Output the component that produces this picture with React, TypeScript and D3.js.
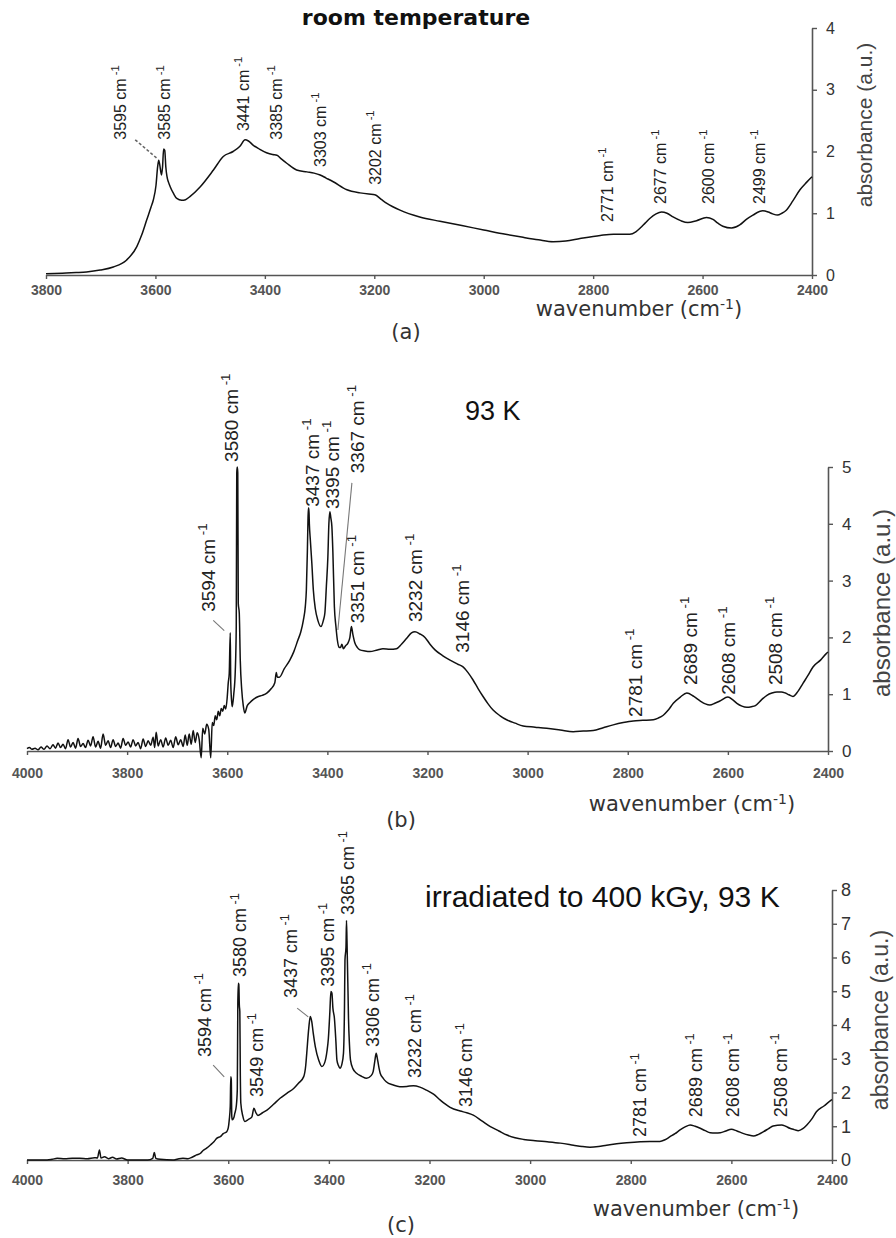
import React, { useEffect, useRef } from 'react';
import * as d3 from 'd3';

type Pt = [number, number];
type Peak = { label: string; lx: number; ly: number };
type Leader = { x1: number; y1: number; x2: number; y2: number; dashed?: boolean };

// ---------- (a) room temperature ----------
const roomTempSpectrum: Pt[] = [
  [3800, 0.02], [3770, 0.03], [3745, 0.04], [3726, 0.05], [3701, 0.08], [3677, 0.13], [3653, 0.24],
  [3634, 0.46], [3625, 0.65], [3616, 0.89], [3608, 1.1], [3604, 1.21], [3599, 1.45], [3596, 1.75],
  [3594, 1.86], [3592, 1.78], [3589, 1.62], [3587, 1.75], [3585, 2.04], [3583, 2.02], [3581, 1.75],
  [3579, 1.6], [3576, 1.5], [3573, 1.43], [3567, 1.32], [3561, 1.24], [3552, 1.21], [3545, 1.22],
  [3537, 1.27], [3518, 1.43], [3494, 1.7], [3476, 1.92], [3458, 2.0], [3446, 2.08], [3436, 2.19],
  [3430, 2.17], [3421, 2.1], [3410, 2.04], [3397, 1.98], [3386, 1.95], [3378, 1.94], [3370, 1.88],
  [3360, 1.81], [3342, 1.7], [3323, 1.67], [3310, 1.65], [3299, 1.62], [3288, 1.57], [3275, 1.51],
  [3250, 1.38], [3226, 1.33], [3210, 1.31], [3199, 1.3], [3188, 1.23], [3177, 1.16], [3153, 1.05],
  [3117, 0.94], [3080, 0.87], [3040, 0.8], [3000, 0.73], [2960, 0.66], [2928, 0.61], [2900, 0.57],
  [2873, 0.54], [2850, 0.55], [2824, 0.59], [2787, 0.64], [2763, 0.66], [2733, 0.66], [2722, 0.7],
  [2714, 0.76], [2705, 0.84], [2696, 0.92], [2685, 0.99], [2675, 1.02], [2665, 1.0], [2654, 0.94],
  [2640, 0.88], [2627, 0.85], [2611, 0.88], [2593, 0.93], [2581, 0.9], [2572, 0.84], [2563, 0.79],
  [2547, 0.76], [2532, 0.81], [2520, 0.9], [2508, 0.97], [2490, 1.04], [2480, 1.02], [2472, 0.99],
  [2463, 0.97], [2455, 1.0], [2447, 1.05], [2435, 1.2], [2422, 1.38], [2410, 1.5], [2400, 1.59],
];
const roomTempPeaks: Peak[] = [
  { label: '3595', lx: 3665, ly: 2.19 }, { label: '3585', lx: 3583, ly: 2.19 },
  { label: '3441', lx: 3440, ly: 2.33 }, { label: '3385', lx: 3380, ly: 2.19 },
  { label: '3303', lx: 3299, ly: 1.75 }, { label: '3202', lx: 3199, ly: 1.46 },
  { label: '2771', lx: 2775, ly: 0.86 }, { label: '2677', lx: 2678, ly: 1.15 },
  { label: '2600', lx: 2590, ly: 1.15 }, { label: '2499', lx: 2497, ly: 1.15 },
];
const roomTempLeaders: Leader[] = [{ x1: 3637, y1: 2.19, x2: 3596, y2: 1.88, dashed: true }];

// ---------- (b) 93 K ----------
const spectrum93K: Pt[] = [
  [4000, 0.04], [3995, 0.06], [3990, 0.03], [3984, 0.05], [3978, 0.02], [3972, 0.07], [3966, 0.03],
  [3960, 0.09], [3954, 0.04], [3948, 0.11], [3943, 0.05], [3938, 0.14], [3933, 0.06], [3928, 0.12],
  [3923, 0.04], [3918, 0.2], [3913, 0.07], [3908, 0.15], [3903, 0.05], [3898, 0.22], [3893, 0.08],
  [3888, 0.13], [3883, 0.06], [3878, 0.19], [3873, 0.09], [3868, 0.25], [3863, 0.07], [3858, 0.17],
  [3853, 0.05], [3848, 0.3], [3843, 0.1], [3838, 0.18], [3833, 0.06], [3828, 0.2], [3823, 0.08],
  [3818, 0.14], [3813, 0.05], [3808, 0.22], [3803, 0.1], [3798, 0.16], [3793, 0.07], [3788, 0.2],
  [3783, 0.09], [3778, 0.15], [3773, 0.04], [3768, 0.21], [3763, 0.08], [3758, 0.18], [3753, 0.1],
  [3748, 0.24], [3745, 0.06], [3742, 0.33], [3738, 0.09], [3733, 0.2], [3728, 0.07], [3723, 0.23],
  [3718, 0.1], [3713, 0.19], [3708, 0.06], [3703, 0.25], [3698, 0.11], [3693, 0.2], [3688, 0.08],
  [3684, 0.28], [3680, 0.1], [3676, 0.3], [3672, 0.12], [3668, 0.36], [3664, 0.15], [3660, 0.32],
  [3656, 0.2], [3652, -0.12], [3649, 0.4], [3645, 0.3], [3641, 0.47], [3637, 0.38], [3633, -0.12],
  [3630, 0.5], [3627, 0.45], [3624, 0.62], [3621, 0.55], [3618, 0.7], [3615, 0.62], [3612, 0.75],
  [3609, 0.7], [3606, 0.8], [3603, 0.74], [3600, 0.95], [3598, 1.2], [3596, 1.37], [3594, 2.08],
  [3593, 1.2], [3591, 0.85], [3590, 0.78], [3587, 1.0], [3584, 1.4], [3582, 2.2], [3581, 4.9],
  [3580, 5.0], [3579, 4.9], [3578, 2.6], [3576, 2.43], [3574, 1.6], [3571, 1.07], [3568, 0.8],
  [3565, 0.67], [3560, 0.8], [3555, 0.85], [3549, 0.9], [3540, 0.95], [3530, 0.98], [3521, 1.02],
  [3512, 1.1], [3505, 1.2], [3502, 1.38], [3500, 1.3], [3496, 1.3], [3486, 1.45], [3475, 1.6],
  [3467, 1.75], [3459, 1.95], [3453, 2.1], [3448, 2.3], [3444, 2.55], [3442, 2.83], [3440, 3.5],
  [3439, 3.95], [3438, 4.28], [3437, 4.28], [3436, 4.0], [3434, 3.71], [3431, 3.3], [3428, 2.83],
  [3424, 2.5], [3419, 2.3], [3413, 2.19], [3408, 2.3], [3405, 2.43], [3402, 2.9], [3399, 3.42],
  [3397, 4.0], [3395, 4.21], [3393, 4.1], [3391, 3.95], [3389, 3.5], [3386, 2.54], [3383, 2.2],
  [3380, 1.95], [3377, 1.83], [3374, 1.82], [3371, 1.88], [3368, 1.8], [3364, 1.85], [3359, 1.9],
  [3355, 2.0], [3352, 2.19], [3349, 2.05], [3345, 1.9], [3340, 1.82], [3335, 1.78], [3325, 1.76],
  [3315, 1.75], [3300, 1.78], [3289, 1.8], [3275, 1.79], [3262, 1.8], [3252, 1.88], [3242, 1.98],
  [3232, 2.08], [3225, 2.1], [3215, 2.06], [3205, 2.0], [3195, 1.88], [3185, 1.78], [3170, 1.68],
  [3155, 1.6], [3140, 1.53], [3129, 1.48], [3119, 1.38], [3109, 1.25], [3099, 1.1], [3089, 0.96],
  [3079, 0.83], [3069, 0.72], [3055, 0.62], [3042, 0.55], [3025, 0.49], [3009, 0.44], [2985, 0.42],
  [2962, 0.4], [2935, 0.37], [2909, 0.34], [2889, 0.35], [2869, 0.36], [2849, 0.41], [2829, 0.46],
  [2809, 0.5], [2789, 0.53], [2770, 0.54], [2749, 0.55], [2739, 0.58], [2729, 0.63], [2719, 0.72],
  [2709, 0.84], [2695, 0.95], [2682, 1.02], [2668, 0.96], [2655, 0.88], [2645, 0.83], [2636, 0.81],
  [2626, 0.84], [2616, 0.88], [2600, 0.95], [2590, 0.9], [2582, 0.84], [2572, 0.79], [2562, 0.77],
  [2553, 0.78], [2545, 0.8], [2533, 0.9], [2522, 0.98], [2512, 1.02], [2502, 1.04], [2493, 1.04],
  [2485, 1.02], [2478, 0.99], [2470, 0.96], [2460, 1.05], [2450, 1.19], [2440, 1.33], [2430, 1.48],
  [2415, 1.6], [2403, 1.72], [2400, 1.74],
];
const peaks93K: Peak[] = [
  { label: '3594', lx: 3638, ly: 2.45 }, { label: '3580', lx: 3592, ly: 5.09 },
  { label: '3437', lx: 3431, ly: 4.3 }, { label: '3395', lx: 3391, ly: 4.26 },
  { label: '3367', lx: 3340, ly: 4.89 }, { label: '3351', lx: 3341, ly: 2.25 },
  { label: '3232', lx: 3225, ly: 2.27 }, { label: '3146', lx: 3131, ly: 1.73 },
  { label: '2781', lx: 2786, ly: 0.6 }, { label: '2689', lx: 2676, ly: 1.16 },
  { label: '2608', lx: 2600, ly: 0.99 }, { label: '2508', lx: 2506, ly: 1.16 },
];
const leaders93K: Leader[] = [
  { x1: 3628, y1: 2.3, x2: 3606, y2: 2.12 },
  { x1: 3351, y1: 4.72, x2: 3379, y2: 2.13 },
];

// ---------- (c) irradiated to 400 kGy, 93 K ----------
const spectrumIrradiated: Pt[] = [
  [4000, 0], [3960, 0], [3950, 0.02], [3940, 0.05], [3925, 0.04], [3910, 0.05], [3895, 0.05],
  [3880, 0.04], [3866, 0.07], [3860, 0.06], [3856, 0.3], [3853, 0.06], [3846, 0.1], [3838, 0.04],
  [3830, 0.08], [3822, 0.03], [3812, 0.06], [3800, 0], [3760, 0], [3750, 0.05], [3747, 0.22],
  [3744, 0.05], [3735, 0.02], [3710, 0], [3700, 0.03], [3690, 0.05], [3680, 0.04], [3672, 0.08],
  [3663, 0.15], [3655, 0.2], [3650, 0.28], [3643, 0.35], [3635, 0.45], [3628, 0.55], [3623, 0.64],
  [3615, 0.7], [3610, 0.78], [3603, 0.84], [3600, 0.95], [3598, 1.19], [3596, 1.6], [3595, 2.47],
  [3594, 2.4], [3593, 1.3], [3592, 1.19], [3589, 1.25], [3587, 1.38], [3584, 1.6], [3582, 2.1],
  [3581, 4.6], [3580, 5.24], [3579, 5.2], [3578, 4.6], [3577, 4.4], [3576, 2.5], [3575, 1.68],
  [3571, 1.3], [3567, 1.14], [3560, 1.2], [3553, 1.28], [3549, 1.53], [3545, 1.4], [3541, 1.32],
  [3532, 1.4], [3523, 1.48], [3510, 1.65], [3497, 1.83], [3483, 1.98], [3470, 2.12], [3460, 2.28],
  [3450, 2.47], [3446, 2.8], [3444, 3.16], [3440, 3.9], [3437, 4.25], [3434, 4.1], [3431, 3.75],
  [3427, 3.36], [3420, 2.95], [3414, 2.77], [3408, 2.9], [3404, 3.2], [3401, 3.6], [3398, 4.4],
  [3396, 4.99], [3394, 4.95], [3392, 4.5], [3389, 4.2], [3386, 3.5], [3384, 2.96], [3381, 2.8],
  [3378, 2.72], [3374, 2.85], [3371, 3.16], [3369, 4.5], [3368, 5.93], [3366, 6.3], [3365, 7.1],
  [3364, 6.5], [3362, 5.0], [3361, 4.2], [3359, 3.4], [3357, 2.96], [3352, 2.7], [3345, 2.57],
  [3335, 2.48], [3325, 2.42], [3316, 2.5], [3312, 2.62], [3309, 2.9], [3306, 3.16], [3303, 2.95],
  [3300, 2.7], [3298, 2.57], [3292, 2.42], [3286, 2.32], [3272, 2.22], [3259, 2.17], [3245, 2.18],
  [3232, 2.2], [3219, 2.16], [3206, 2.07], [3192, 1.95], [3179, 1.78], [3169, 1.66], [3159, 1.56],
  [3139, 1.45], [3126, 1.4], [3113, 1.33], [3096, 1.16], [3079, 0.99], [3062, 0.86], [3046, 0.74],
  [3030, 0.66], [3013, 0.61], [2990, 0.57], [2966, 0.54], [2940, 0.5], [2914, 0.44], [2897, 0.4],
  [2881, 0.38], [2864, 0.4], [2848, 0.44], [2828, 0.48], [2808, 0.51], [2781, 0.54], [2762, 0.55],
  [2742, 0.55], [2732, 0.6], [2722, 0.69], [2712, 0.78], [2702, 0.89], [2692, 0.98], [2682, 1.04],
  [2672, 1.0], [2662, 0.94], [2652, 0.87], [2642, 0.81], [2632, 0.8], [2622, 0.81], [2611, 0.86],
  [2600, 0.91], [2589, 0.86], [2577, 0.79], [2566, 0.74], [2556, 0.71], [2546, 0.76], [2536, 0.84],
  [2526, 0.93], [2517, 1.01], [2500, 1.04], [2492, 1.0], [2484, 0.94], [2475, 0.9], [2467, 0.87],
  [2458, 0.93], [2450, 1.04], [2440, 1.22], [2431, 1.43], [2416, 1.6], [2401, 1.78], [2400, 1.79],
];
const peaksIrradiated: Peak[] = [
  { label: '3594', lx: 3648, ly: 3.05 }, { label: '3580', lx: 3577, ly: 5.42 },
  { label: '3549', lx: 3543, ly: 1.87 }, { label: '3437', lx: 3477, ly: 4.8 },
  { label: '3395', lx: 3402, ly: 5.13 }, { label: '3365', lx: 3362, ly: 7.26 },
  { label: '3306', lx: 3314, ly: 3.35 }, { label: '3232', lx: 3229, ly: 2.43 },
  { label: '3146', lx: 3129, ly: 1.57 }, { label: '2781', lx: 2782, ly: 0.68 },
  { label: '2689', lx: 2672, ly: 1.27 }, { label: '2608', lx: 2597, ly: 1.27 },
  { label: '2508', lx: 2503, ly: 1.27 },
];
const leadersIrradiated: Leader[] = [
  { x1: 3630, y1: 2.81, x2: 3608, y2: 2.46 },
  { x1: 3463, y1: 4.5, x2: 3441, y2: 4.24 },
];

// ---------- ticks ----------
const xTicksRoomTemp = [3800, 3600, 3400, 3200, 3000, 2800, 2600, 2400];
const xTicks93K = [4000, 3800, 3600, 3400, 3200, 3000, 2800, 2600, 2400];
const yTicksRoomTemp = [0, 1, 2, 3, 4];
const yTicks93K = [0, 1, 2, 3, 4, 5];
const yTicksIrradiated = [0, 1, 2, 3, 4, 5, 6, 7, 8];

const SANS = '"Liberation Sans", Arial, sans-serif';
const WIDE = '"DejaVu Sans", Verdana, sans-serif';

interface PanelProps {
  data: Pt[];
  peaks: Peak[];
  leaders: Leader[];
  xDomain: [number, number];
  xRange: [number, number];
  yDomain: [number, number];
  yRange: [number, number];
  xTicks: number[];
  yTicks: number[];
  xTickPad: number;
  yTickPad: number;
  yTickFs: number;
  peakFs: number;
}

function Panel(p: PanelProps) {
  const x = d3.scaleLinear().domain(p.xDomain).range(p.xRange);
  const y = d3.scaleLinear().domain(p.yDomain).range(p.yRange);
  const line = d3.line<Pt>().x((d) => x(d[0])).y((d) => y(d[1])).curve(d3.curveMonotoneX);
  const xRef = useRef<SVGGElement>(null);
  const yRef = useRef<SVGGElement>(null);

  useEffect(() => {
    const gx = d3.select(xRef.current as SVGGElement);
    gx.selectAll('*').remove();
    gx.call(
      d3.axisBottom(x).tickValues(p.xTicks).tickSize(4).tickSizeOuter(0).tickPadding(p.xTickPad).tickFormat(d3.format('d')) as any
    );
    gx.select('.domain').attr('stroke', '#555').attr('stroke-width', 1.6);
    gx.selectAll('.tick line').attr('stroke', '#555').attr('stroke-width', 1.4);
    gx.selectAll('.tick text')
      .attr('font-family', SANS).attr('font-size', 14).attr('font-weight', 'bold').attr('fill', '#555');

    const gy = d3.select(yRef.current as SVGGElement);
    gy.selectAll('*').remove();
    gy.call(
      d3.axisRight(y).tickValues(p.yTicks).tickSize(5).tickSizeOuter(0).tickPadding(p.yTickPad).tickFormat(d3.format('d')) as any
    );
    gy.select('.domain').attr('stroke', '#555').attr('stroke-width', 1.6);
    gy.selectAll('.tick line').attr('stroke', '#555').attr('stroke-width', 1.4);
    gy.selectAll('.tick text').attr('font-family', SANS).attr('font-size', p.yTickFs).attr('fill', '#333');
  });

  return (
    <g>
      <g ref={xRef} transform={`translate(0,${p.yRange[0]})`} />
      <g ref={yRef} transform={`translate(${p.xRange[1]},0)`} />
      <path d={line(p.data) || ''} fill="none" stroke="#111" strokeWidth={1.5} strokeLinejoin="round" />
      {p.leaders.map((l, i) => (
        <line
          key={'l' + i}
          x1={x(l.x1)} y1={y(l.y1)} x2={x(l.x2)} y2={y(l.y2)}
          stroke={l.dashed ? '#666' : '#777'}
          strokeWidth={l.dashed ? 1.6 : 1.1}
          strokeDasharray={l.dashed ? '3,2' : undefined}
        />
      ))}
      {p.peaks.map((pk) => (
        <text
          key={pk.label + pk.lx}
          transform={`translate(${x(pk.lx) + p.peakFs * 0.36},${y(pk.ly)}) rotate(-90)`}
          fontFamily={SANS}
          fontSize={p.peakFs}
          fill="#222"
        >
          {`${pk.label} cm`}
          <tspan fontSize={p.peakFs * 0.7} dy={-p.peakFs * 0.42}>{' -1'}</tspan>
        </text>
      ))}
    </g>
  );
}

function XLabel({ cx, by }: { cx: number; by: number }) {
  return (
    <text x={cx} y={by} textAnchor="middle" fontFamily={WIDE} fontSize={21} fill="#333">
      wavenumber (cm
      <tspan fontSize={14} dy={-7}>-1</tspan>
      <tspan dy={7}>)</tspan>
    </text>
  );
}

function YLabel({ bx, cy, fs }: { bx: number; cy: number; fs: number }) {
  return (
    <text transform={`translate(${bx},${cy}) rotate(-90)`} textAnchor="middle" fontFamily={SANS} fontSize={fs} fill="#444">
      absorbance (a.u.)
    </text>
  );
}

export default function App() {
  return (
    <svg width={896} height={1238} style={{ position: 'absolute', left: 0, top: 0, background: '#fff' }}>
      <rect width={896} height={1238} fill="#fff" />
      {/* (a) */}
      <text x={416} y={25} textAnchor="middle" fontFamily={WIDE} fontWeight="bold" fontSize={22} fill="#111">
        room temperature
      </text>
      <Panel
        data={roomTempSpectrum} peaks={roomTempPeaks} leaders={roomTempLeaders}
        xDomain={[3800, 2400]} xRange={[46, 812]} yDomain={[0, 4]} yRange={[275, 28]}
        xTicks={xTicksRoomTemp} yTicks={yTicksRoomTemp} xTickPad={6} yTickPad={9} yTickFs={16} peakFs={16}
      />
      <XLabel cx={639} by={316} />
      <YLabel bx={872} cy={125} fs={21} />
      <text x={406} y={339} textAnchor="middle" fontFamily={WIDE} fontSize={21} fill="#333">(a)</text>

      {/* (b) */}
      <text x={465} y={420} fontFamily={SANS} fontSize={27} fill="#111">93 K</text>
      <Panel
        data={spectrum93K} peaks={peaks93K} leaders={leaders93K}
        xDomain={[4000, 2400]} xRange={[27, 828]} yDomain={[0, 5]} yRange={[751, 467]}
        xTicks={xTicks93K} yTicks={yTicks93K} xTickPad={13} yTickPad={9} yTickFs={17} peakFs={19}
      />
      <XLabel cx={692} by={811} />
      <YLabel bx={890} cy={603} fs={24} />
      <text x={401} y={827} textAnchor="middle" fontFamily={WIDE} fontSize={21} fill="#333">(b)</text>

      {/* (c) */}
      <text x={425} y={907} fontFamily={SANS} fontSize={30} fill="#111">
        irradiated to 400 kGy, 93 K
      </text>
      <Panel
        data={spectrumIrradiated} peaks={peaksIrradiated} leaders={leadersIrradiated}
        xDomain={[4000, 2400]} xRange={[27, 832]} yDomain={[0, 8]} yRange={[1160, 890]}
        xTicks={xTicks93K} yTicks={yTicksIrradiated} xTickPad={11} yTickPad={4} yTickFs={18} peakFs={18}
      />
      <XLabel cx={696} by={1216} />
      <YLabel bx={888} cy={1020} fs={23} />
      <text x={401} y={1232} textAnchor="middle" fontFamily={WIDE} fontSize={21} fill="#333">(c)</text>
    </svg>
  );
}
